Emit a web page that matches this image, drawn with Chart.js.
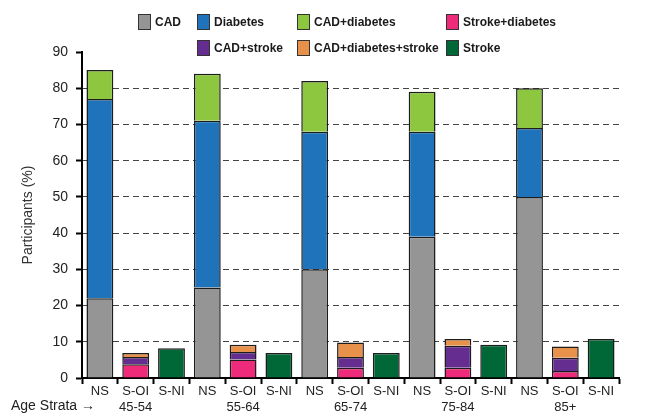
<!DOCTYPE html>
<html>
<head>
<meta charset="utf-8">
<script src="https://cdn.jsdelivr.net/npm/chart.js@4.4.0/dist/chart.umd.min.js"></script>
<style>
html, body { margin: 0; padding: 0; background: #fff; }
#wrap { position: relative; width: 649px; height: 416px; font-family: 'Liberation Sans', Arial, sans-serif; }
#legend { position: absolute; left: 0; top: 0; width: 649px; height: 60px; }
.lg { position: absolute; display: flex; align-items: center; font-weight: bold; font-size: 12px; color: #1a1a1a; white-space: nowrap; }
.lg i { display: inline-block; width: 11px; height: 14px; border: 1px solid #333; margin-right: 4px; }
</style>
</head>
<body>
<div id="wrap">
  <canvas id="c" width="649" height="416"></canvas>
  <div id="legend"></div>
</div>
<script>
const ageGroups = ['45-54', '55-64', '65-74', '75-84', '85+'];
const strata = ['NS', 'S-OI', 'S-NI'];
const yTicks = [0, 10, 20, 30, 40, 50, 60, 70, 80, 90];

// NS bars (%)
const cad = [22, 25, 30, 39, 50];
const diabetes = [55, 46, 38, 29, 19];
const cadDiabetes = [8, 13, 14, 11, 11];
// S-OI bars (%)
const strokeDiabetes = [3.8, 5.1, 2.8, 2.8, 1.9];
const cadStroke = [2.0, 2.1, 3.0, 6.1, 3.7];
const cadDiabetesStroke = [1.1, 2.0, 4.0, 1.9, 3.1];
// S-NI bars (%)
const stroke = [8.2, 6.9, 6.9, 9.2, 10.8];

const colors = {
    'CAD': '#959595',
    'Diabetes': '#1f73bb',
    'CAD+diabetes': '#8dc63f',
    'Stroke+diabetes': '#ee2a7b',
    'CAD+stroke': '#662d91',
    'CAD+diabetes+stroke': '#e8914b',
    'Stroke': '#006837'
};

// put a series on one stratum of every age group, empty elsewhere
function spread(vals, stratum) {
    const out = [];
    ageGroups.forEach((a, g) => strata.forEach((s, k) => out.push(k === stratum ? vals[g] : null)));
    return out;
}

const labels = [];
ageGroups.forEach(a => strata.forEach((s, k) => labels.push([s, k === 1 ? a : ''])));

const series = [
    ['CAD', cad, 0],
    ['Diabetes', diabetes, 0],
    ['CAD+diabetes', cadDiabetes, 0],
    ['Stroke+diabetes', strokeDiabetes, 1],
    ['CAD+stroke', cadStroke, 1],
    ['CAD+diabetes+stroke', cadDiabetesStroke, 1],
    ['Stroke', stroke, 2]
];

const datasets = series.map(([name, vals, k]) => ({
    label: name,
    data: spread(vals, k),
    backgroundColor: colors[name],
    borderColor: '#1c1c1c',
    borderWidth: 1.5,
    categoryPercentage: 1,
    barPercentage: 0.75,
    stack: 'all'
}));

// legend layout (two rows, second row starts in column 2)
const legendCols = [138, 197, 297, 446];
const legendRows = [14, 40];
const legendSlots = [[0, 0], [0, 1], [0, 2], [0, 3], [1, 1], [1, 2], [1, 3]];
const legendEl = document.getElementById('legend');
series.forEach(([name], i) => {
    const [r, c] = legendSlots[i];
    const d = document.createElement('div');
    d.className = 'lg';
    d.style.left = legendCols[c] + 'px';
    d.style.top = legendRows[r] + 'px';
    d.innerHTML = '<i style="background:' + colors[name] + '"></i><span>' + name + '</span>';
    legendEl.appendChild(d);
});

const ageStrata = {
    id: 'ageStrata',
    afterDraw(chart) {
        const ctx = chart.ctx;
        ctx.save();
        ctx.font = '14px "Liberation Sans", Arial, sans-serif';
        ctx.fillStyle = '#222';
        ctx.textBaseline = 'middle';
        ctx.fillText('Age Strata \u2192', 11, chart.scales.x.bottom - 10);
        ctx.restore();
    }
};

const font = '"Liberation Sans", Arial, sans-serif';

new Chart(document.getElementById('c'), {
    type: 'bar',
    data: { labels, datasets },
    plugins: [ageStrata],
    options: {
        responsive: false,
        animation: false,
        layout: { padding: { top: 52, right: 30, left: 0, bottom: 0 } },
        plugins: { legend: { display: false }, tooltip: { enabled: false } },
        scales: {
            x: {
                stacked: true,
                grid: { drawOnChartArea: false, drawTicks: true, tickLength: 6, tickWidth: 2, tickColor: '#000', offset: true },
                border: { display: true, color: '#000', width: 2 },
                ticks: { color: '#222', font: { family: font, size: 13, lineHeight: 1.2 }, padding: 0, maxRotation: 0, autoSkip: false },
                afterFit(s) { s.height = 38; }
            },
            y: {
                stacked: true,
                min: 0,
                max: 90,
                afterBuildTicks(s) { s.ticks = yTicks.map(v => ({ value: v })); },
                grid: {
                    color: c => (c.tick && (c.tick.value === 0 || c.tick.value === 90)) ? 'rgba(0,0,0,0)' : '#444',
                    lineWidth: 1,
                    tickColor: '#000',
                    tickWidth: 2,
                    tickLength: 6,
                    tickBorderDash: []
                },
                border: { display: true, color: '#000', width: 2, dash: [6, 4] },
                ticks: { color: '#222', font: { family: font, size: 14 }, padding: 8 },
                title: { display: true, text: 'Participants (%)', color: '#333', font: { family: font, size: 14 }, padding: { top: 20, bottom: 0 } },
                afterFit(s) { s.width = 82; }
            }
        }
    }
});
</script>
</body>
</html>
